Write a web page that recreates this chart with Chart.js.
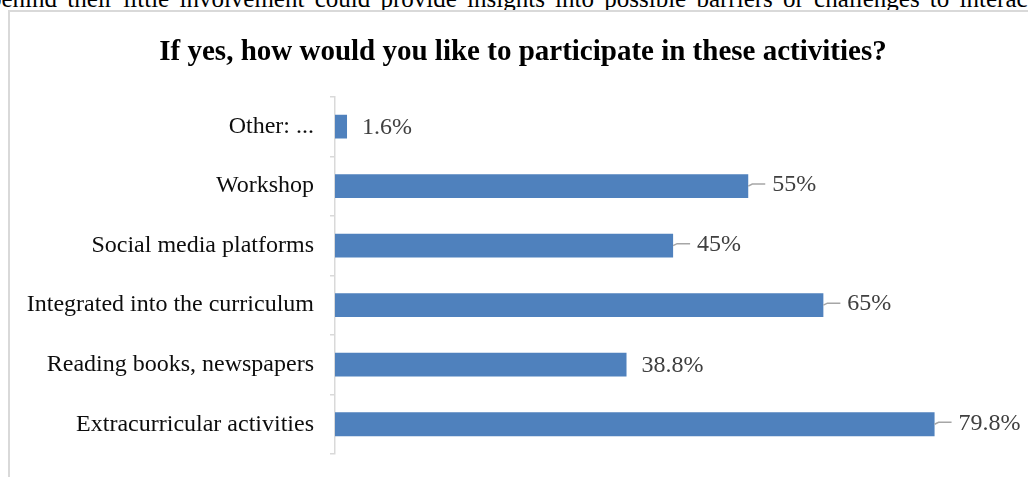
<!DOCTYPE html>
<html>
<head>
<meta charset="utf-8">
<script src="https://cdn.jsdelivr.net/npm/chart.js@4.4.1/dist/chart.umd.min.js"></script>
<style>
  html, body { margin: 0; padding: 0; background: #fff; overflow: hidden; }
  body { width: 1028px; height: 477px; position: relative; }
  .prev-text {
    position: absolute; left: -11px; top: -14px; white-space: nowrap; word-spacing: 4px;
    font: 25px/25px 'Liberation Serif', 'Times New Roman', serif; color: #000;
  }
  .figure {
    position: absolute; left: 8px; top: 10px; width: 1100px; height: 500px;
    border-left: 2px solid #d9d9d9; border-top: 2px solid #d9d9d9;
  }
</style>
</head>
<body>
<div class="prev-text">behind their little involvement could provide insights into possible barriers or challenges to interacting</div>
<div class="figure">
  <canvas id="myChart" width="1026" height="465"></canvas>
</div>
<script>
// Категории (сверху вниз) и проценты ответов
var categories = [
  'Other: ...',
  'Workshop',
  'Social media platforms',
  'Integrated into the curriculum',
  'Reading books, newspapers',
  'Extracurricular activities'
];
var percentValues = [1.6, 55, 45, 65, 38.8, 79.8];
var valueLabels = ['1.6%', '55%', '45%', '65%', '38.8%', '79.8%'];

Chart.defaults.font.family = "'Liberation Serif', 'Times New Roman', serif";

// Подписи значений справа от полос, у некоторых есть выноска
var valueLabelPlugin = {
  id: 'valueLabels',
  afterDatasetsDraw: function(chart, args, opts) {
    var ctx = chart.ctx;
    var meta = chart.getDatasetMeta(0);
    ctx.save();
    ctx.font = opts.fontSize + 'px ' + Chart.defaults.font.family;
    ctx.fillStyle = opts.color;
    ctx.textAlign = 'left';
    ctx.textBaseline = 'middle';
    meta.data.forEach(function(bar, i) {
      var x = bar.x;
      var y = bar.y;
      if (opts.leader[i]) {
        ctx.strokeStyle = opts.leaderColor;
        ctx.lineWidth = 1.5;
        ctx.beginPath();
        ctx.moveTo(x, y);
        ctx.lineTo(x + 4, y - 2);
        ctx.lineTo(x + 17, y - 2);
        ctx.stroke();
        ctx.fillText(valueLabels[i], x + 24, y - 1);
      } else {
        ctx.fillText(valueLabels[i], x + 15, y + 1);
      }
    });
    ctx.restore();
  }
};

var chart = new Chart(document.getElementById('myChart'), {
  type: 'bar',
  data: {
    labels: categories,
    datasets: [{
      data: percentValues,
      backgroundColor: '#4f81bd',
      borderWidth: 0,
      categoryPercentage: 1,
      barPercentage: 0.4
    }]
  },
  plugins: [valueLabelPlugin],
  options: {
    indexAxis: 'y',
    responsive: false,
    animation: false,
    layout: { padding: { left: 0, right: 0, top: 0, bottom: 23 } },
    scales: {
      x: { display: false, min: 0, max: 93.3 },
      y: {
        afterFit: function(scale) {
          scale.width = 325;
          scale.paddingTop = 0;
          scale.paddingBottom = 0;
        },
        grid: {
          drawOnChartArea: false,
          drawTicks: true,
          tickLength: 5,
          color: '#d9d9d9',
          lineWidth: 1.5
        },
        border: { color: '#d9d9d9', width: 1.5 },
        ticks: {
          padding: 16,
          color: '#0d0d0d',
          font: { size: 24 }
        }
      }
    },
    plugins: {
      legend: { display: false },
      tooltip: { enabled: false },
      title: {
        display: true,
        text: 'If yes, how would you like to participate in these activities?',
        color: '#000',
        font: { size: 29, weight: 'bold' },
        padding: { top: 23, bottom: 27 }
      },
      valueLabels: {
        fontSize: 24,
        color: '#404040',
        leaderColor: '#a6a6a6',
        leader: [false, true, true, true, false, true]
      }
    }
  }
});
</script>
</body>
</html>
